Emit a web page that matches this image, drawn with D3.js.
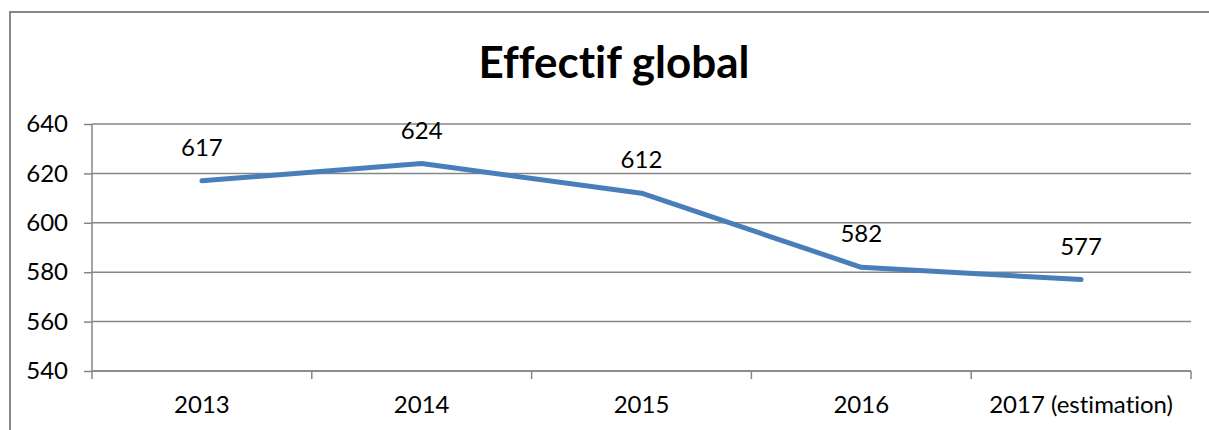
<!DOCTYPE html>
<html>
<head>
<meta charset="utf-8">
<script src="https://cdn.jsdelivr.net/npm/d3@7"></script>
<style>
  body { margin: 0; background: #fff; }
  text { font-family: Lato, "Open Sans", sans-serif; fill: #000; font-variant-ligatures: none; }
</style>
</head>
<body>
<script>
const categories = ["2013", "2014", "2015", "2016", "2017 (estimation)"];
const values = [617, 624, 612, 582, 577];
const yTicks = [540, 560, 580, 600, 620, 640];
const title = "Effectif global";

const W = 1209, H = 430;
const margin = {top: 124, right: 18, bottom: 59, left: 92},
  width = W - margin.left - margin.right,
  height = H - margin.top - margin.bottom;

const svg = d3.select("body").append("svg")
  .attr("width", W)
  .attr("height", H);

// chart frame (runs off the right and bottom edges)
svg.append("rect")
  .attr("x", 10).attr("y", 12)
  .attr("width", 1400).attr("height", 600)
  .attr("fill", "none")
  .attr("stroke", "#878787")
  .attr("stroke-width", 2);

svg.append("text")
  .attr("x", 614).attr("y", 78)
  .attr("text-anchor", "middle")
  .style("font-size", "44px")
  .style("font-weight", "bold")
  .text(title);

const g = svg.append("g")
  .attr("transform", "translate(" + margin.left + "," + margin.top + ")");

const x = d3.scaleBand()
  .domain(categories)
  .range([0, width]);

const y = d3.scaleLinear()
  .domain([540, 640])
  .range([height, 0]);

// gridlines
g.append("g")
  .selectAll("line")
  .data(yTicks)
  .join("line")
  .attr("x1", 0).attr("x2", width)
  .attr("y1", d => y(d)).attr("y2", d => y(d))
  .attr("stroke", "#868686")
  .attr("stroke-width", 1.5);

// y axis
const yAxis = g.append("g")
  .call(d3.axisLeft(y).tickValues(yTicks).tickSize(8).tickPadding(16));
yAxis.selectAll("line, path").attr("stroke", "#868686").attr("stroke-width", 1.5);
yAxis.select(".domain").attr("d", "M0," + height + "V0");
yAxis.selectAll("text").style("font-size", "24px").attr("fill", "#000");

// x axis with ticks at band boundaries
const xAxis = g.append("g")
  .attr("transform", "translate(0," + height + ")");
xAxis.append("line")
  .attr("x1", 0).attr("x2", width)
  .attr("stroke", "#868686").attr("stroke-width", 1.5);
xAxis.selectAll(".tick")
  .data(d3.range(categories.length + 1))
  .join("line")
  .attr("class", "tick")
  .attr("x1", i => i * x.bandwidth()).attr("x2", i => i * x.bandwidth())
  .attr("y1", 0).attr("y2", 8)
  .attr("stroke", "#868686").attr("stroke-width", 1.5);
xAxis.selectAll(".lbl")
  .data(categories)
  .join("text")
  .attr("class", "lbl")
  .attr("x", d => x(d) + x.bandwidth() / 2)
  .attr("y", 42)
  .attr("text-anchor", "middle")
  .style("font-size", "24px")
  .text(d => d);

const pts = categories.map((c, i) => ({c: c, v: values[i]}));

const line = d3.line()
  .x(d => x(d.c) + x.bandwidth() / 2)
  .y(d => y(d.v));

g.append("path")
  .datum(pts)
  .attr("d", line)
  .attr("fill", "none")
  .attr("stroke", "#4a7ebb")
  .attr("stroke-width", 5)
  .attr("stroke-linejoin", "round")
  .attr("stroke-linecap", "round");

g.selectAll(".val")
  .data(pts)
  .join("text")
  .attr("class", "val")
  .attr("x", d => x(d.c) + x.bandwidth() / 2)
  .attr("y", d => y(d.v) - 25)
  .attr("text-anchor", "middle")
  .style("font-size", "24px")
  .text(d => d.v);
</script>
</body>
</html>
